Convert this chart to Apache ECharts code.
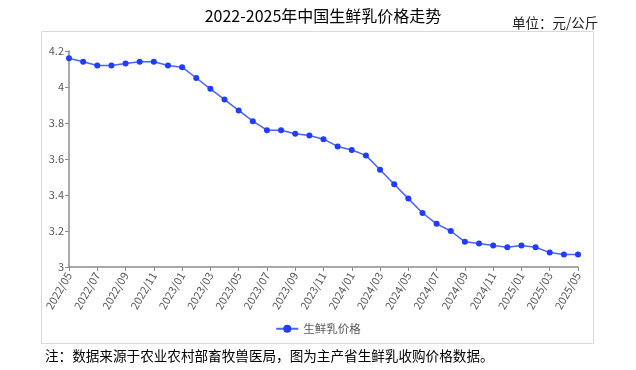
<!DOCTYPE html>
<html>
<head>
<meta charset="utf-8">
<script src="https://cdn.jsdelivr.net/npm/echarts@6/dist/echarts.min.js"></script>
<style>
html,body{margin:0;padding:0;background:#fff;}
#c{width:636px;height:370px;}
</style>
</head>
<body>
<div id="c"></div>
<script>
const months = ["2022/05","2022/06","2022/07","2022/08","2022/09","2022/10","2022/11","2022/12",
"2023/01","2023/02","2023/03","2023/04","2023/05","2023/06","2023/07","2023/08","2023/09","2023/10","2023/11","2023/12",
"2024/01","2024/02","2024/03","2024/04","2024/05","2024/06","2024/07","2024/08","2024/09","2024/10","2024/11","2024/12",
"2025/01","2025/02","2025/03","2025/04","2025/05"];
const milkPrice = [4.16,4.14,4.12,4.12,4.13,4.14,4.14,4.12,
4.11,4.05,3.99,3.93,3.87,3.81,3.76,3.76,3.74,3.73,3.71,3.67,
3.65,3.62,3.54,3.46,3.38,3.30,3.24,3.20,3.14,3.13,3.12,3.11,
3.12,3.11,3.08,3.07,3.07];
const seriesName = "生鲜乳价格";
const titleText = "2022-2025年中国生鲜乳价格走势";
const unitText = "单位：元/公斤";
const noteText = "注：数据来源于农业农村部畜牧兽医局，图为主产省生鲜乳收购价格数据。";

const font = '"Noto Sans CJK SC","Noto Sans",sans-serif';
const chart = echarts.init(document.getElementById('c'));
chart.setOption({
  animation: false,
  backgroundColor: '#fff',
  textStyle: {fontFamily: font},
  title: [
    {text: titleText, left: 318, top: 3, textAlign: 'center',
     textStyle: {fontSize: 16, fontWeight: 'normal', color: '#000', fontFamily: font}},
    {text: unitText, left: 507, top: 11,
     textStyle: {fontSize: 13.5, fontWeight: 'normal', color: '#222', fontFamily: font}},
    {text: noteText, left: 40, top: 344,
     textStyle: {fontSize: 13.6, fontWeight: 'normal', color: '#000', fontFamily: font}}
  ],
  graphic: [
    {type: 'rect', left: 41, top: 31, z: -1, silent: true,
     shape: {width: 552, height: 312},
     style: {fill: '#fff', stroke: '#d9d9d9', lineWidth: 1}}
  ],
  legend: {
    data: [seriesName], left: 'center', top: 318,
    itemWidth: 22, itemHeight: 10,
    textStyle: {fontSize: 11.5, color: '#595959', fontFamily: font}
  },
  grid: {left: 69, right: 58, top: 51, height: 216, containLabel: false},
  xAxis: {
    type: 'category', data: months, boundaryGap: false,
    axisLine: {lineStyle: {color: '#8c8c8c', width: 1.5}},
    axisTick: {show: true, interval: 1, length: 4, lineStyle: {color: '#8c8c8c'}},
    axisLabel: {interval: 1, rotate: 60, fontSize: 11, color: '#595959', margin: 6, fontFamily: font}
  },
  yAxis: {
    type: 'value', min: 3, max: 4.2, interval: 0.2,
    axisLine: {show: true, lineStyle: {color: '#8c8c8c', width: 1.5}},
    axisTick: {show: true, length: 4, lineStyle: {color: '#8c8c8c'}},
    splitLine: {show: false},
    axisLabel: {fontSize: 11, color: '#595959', margin: 5, fontFamily: font}
  },
  series: [{
    name: seriesName, type: 'line', data: milkPrice,
    symbol: 'circle', symbolSize: 6,
    lineStyle: {color: '#4a63ff', width: 1.5},
    itemStyle: {color: '#1f3cff'}
  }]
});
</script>
</body>
</html>
